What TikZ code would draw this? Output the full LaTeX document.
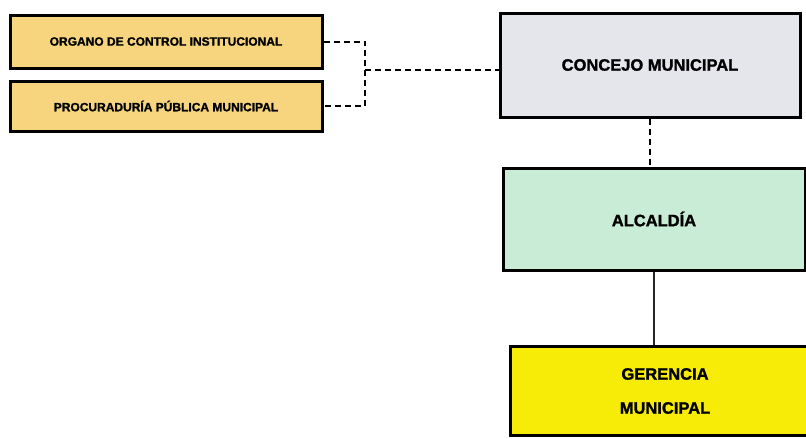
\documentclass[tikz,border=0pt]{standalone}
\usepackage{fontspec}
\setmainfont{Liberation Sans}[BoldFeatures={FakeBold=1.4}]
\definecolor{tanfill}{HTML}{F6D57E}
\definecolor{greyfill}{HTML}{E5E5EC}
\definecolor{mintfill}{HTML}{C8ECD5}
\definecolor{yellowfill}{HTML}{F6EC08}
\tikzset{
  unit/.style={draw=black, line width=3pt, rectangle, inner sep=0pt, font=\bfseries},
  small/.style={unit, fill=tanfill, minimum width=312pt, font=\bfseries\fontsize{12}{14}\selectfont},
  large/.style={unit, font=\bfseries\fontsize{16.5}{19}\selectfont},
  dashlink/.style={draw=black, line width=2pt, dash pattern=on 6pt off 4pt},
  solidlink/.style={draw=black!85, line width=2pt},
}
\begin{document}
\begin{tikzpicture}[x=1pt,y=-1pt]
  \useasboundingbox[fill=white] (0,0) rectangle (806,439);
  \begin{scope}
    \clip (0,0) rectangle (806,439);
    % support offices
    \node[small, minimum height=53pt] (oci) at (166,41.5) {ORGANO DE CONTROL INSTITUCIONAL};
    \node[small, minimum height=50pt] (ppm) at (166,106) {PROCURADURÍA PÚBLICA MUNICIPAL};
    % main line of authority
    \node[large, fill=greyfill, minimum width=300pt, minimum height=104pt] (concejo) at (650,65) {CONCEJO MUNICIPAL};
    \node[large, fill=mintfill, minimum width=302pt, minimum height=102pt] (alcaldia) at (654,219) {ALCALDÍA};
    \node[large, fill=yellowfill, minimum width=310pt, minimum height=89pt, align=center] (gerencia) at (665,391) {GERENCIA\\[15pt]MUNICIPAL};
    % bracket joining the two offices to the council
    \coordinate (jtop) at (365,41.5);
    \coordinate (jmid) at (365,70);
    \draw[dashlink] (oci.east) -- (jtop) -- (jtop |- ppm.east) -- (ppm.east);
    \draw[dashlink] (jmid) -- (concejo.west |- jmid);
    % vertical links
    \draw[dashlink] (concejo.south) -- (concejo.south |- alcaldia.north);
    \draw[solidlink] (alcaldia.south) -- (alcaldia.south |- gerencia.north);
  \end{scope}
\end{tikzpicture}
\end{document}
